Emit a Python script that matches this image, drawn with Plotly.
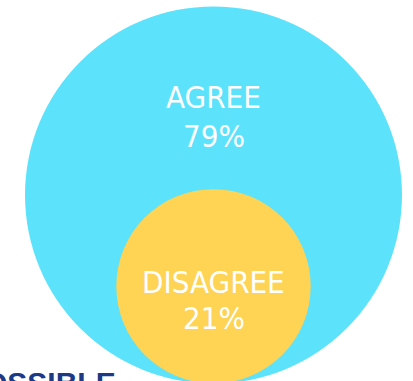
import math
import plotly.graph_objects as go

categories = ["AGREE", "DISAGREE"]
values = [79, 21]
colors = ["#5CE3FB", "#FFD353"]
footer_text = "POSSIBLE"

W, H = 413, 381
R_big = 188.5
cx, cy_big = 213.5, 195.0
k = R_big / math.sqrt(values[0])
r_small = k * math.sqrt(values[1])
cy_small = cy_big + R_big - r_small

fig = go.Figure()
fig.add_shape(type="circle", xref="x", yref="y",
              x0=cx - R_big, x1=cx + R_big, y0=cy_big - R_big, y1=cy_big + R_big,
              fillcolor=colors[0], line=dict(width=0), layer="below")
fig.add_shape(type="circle", xref="x", yref="y",
              x0=cx - r_small, x1=cx + r_small, y0=cy_small - r_small, y1=cy_small + r_small,
              fillcolor=colors[1], line=dict(width=0), layer="below")

font = dict(family="DejaVu Sans Condensed", size=31, color="white")
label_pos = [(96.5, 136.0), (281.5, 318.0)]
for cat, val, (ly, vy) in zip(categories, values, label_pos):
    fig.add_annotation(x=cx, y=ly, text=cat, showarrow=False, font=font,
                       xanchor="center", yanchor="middle")
    fig.add_annotation(x=cx, y=vy, text=f"{val}%", showarrow=False, font=font,
                       xanchor="center", yanchor="middle")

fig.add_annotation(xref="paper", yref="paper", x=118 / W, y=(H - 364) / H,
                   text=f"<b>{footer_text}</b>", showarrow=False,
                   font=dict(family="Liberation Sans", size=30, color="#1C3A86"),
                   xanchor="right", yanchor="top")

fig.update_layout(
    width=W, height=H, margin=dict(l=0, r=0, t=0, b=0),
    paper_bgcolor="white", plot_bgcolor="white", showlegend=False,
    xaxis=dict(range=[0, W], visible=False, fixedrange=True),
    yaxis=dict(range=[H, 0], visible=False, fixedrange=True),
)
fig.write_html("out.html")
